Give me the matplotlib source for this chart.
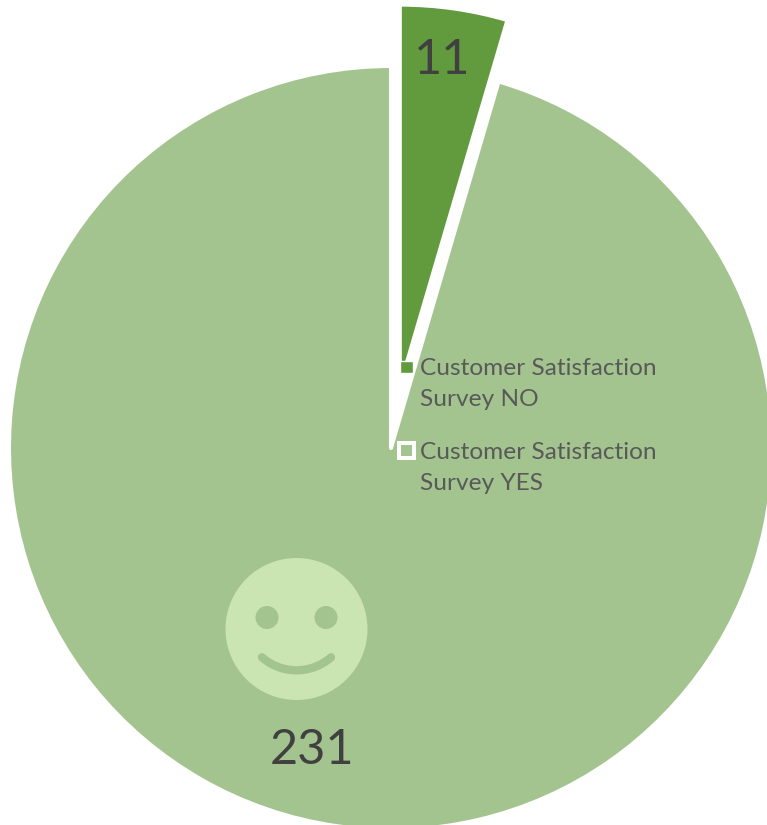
import matplotlib
matplotlib.use("Agg")
import matplotlib.pyplot as plt
from matplotlib.patches import Circle, Arc, Rectangle

values = [11, 231]
labels = ["Customer Satisfaction\nSurvey NO", "Customer Satisfaction\nSurvey YES"]
colors = ["#629A3E", "#A3C48F"]

H = 825
plt.rcParams["font.family"] = ["Lato", "DejaVu Sans"]

fig = plt.figure(figsize=(7.67, 8.25), dpi=100)
ax = fig.add_axes([0, 0, 1, 1])

# pie, positions are in pixels of the image (y flipped with H-y)
# explode is in data units here, so pixels too
ax.pie(values, colors=colors, explode=[62, 0], startangle=90, counterclock=False,
       center=(391, H - 448), radius=382, frame=True,
       wedgeprops=dict(edgecolor="white", linewidth=2.9, joinstyle="round"))
ax.set_xlim(0, 767)
ax.set_ylim(0, H)
ax.axis("off")

# data labels
ax.text(442, H - 60, str(values[0]), fontsize=35, color="#404040", ha="center", va="center")
ax.text(312, H - 750, str(values[1]), fontsize=35, color="#404040", ha="center", va="center")

# smiley
face = "#CBE5B2"
ax.add_patch(Circle((296.5, H - 629), 71, fc=face, ec="none"))
ax.add_patch(Circle((267, H - 617.5), 11.5, fc=colors[1], ec="none"))
ax.add_patch(Circle((326, H - 617.5), 11.5, fc=colors[1], ec="none"))
ax.add_patch(Arc((296.5, H - 618), 104.6, 104.6, theta1=228.7, theta2=311.3,
                 color=colors[1], lw=6.0, capstyle="round"))

# legend
ax.add_patch(Rectangle((399.5, H - 372.5), 13, 12, fc=colors[0], ec="white", lw=1.0, zorder=3))
ax.add_patch(Rectangle((398.5, H - 458), 15, 15, fc=colors[1], ec="white", lw=2.9, zorder=3))
ax.text(420, H - 384, labels[0], fontsize=17.6, color="#595959", ha="left", va="center", linespacing=1.55)
ax.text(420, H - 468, labels[1], fontsize=17.6, color="#595959", ha="left", va="center", linespacing=1.55)

fig.savefig("out.png", dpi=100)
